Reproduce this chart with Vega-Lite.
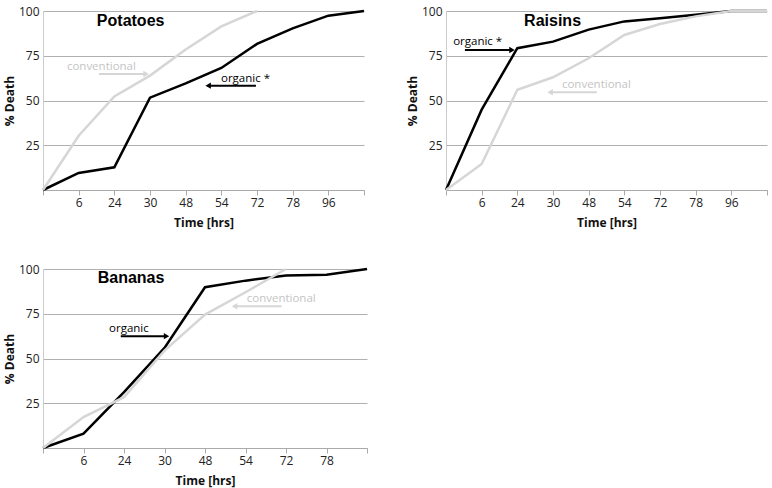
{
  "$schema": "https://vega.github.io/schema/vega-lite/v6.json",
  "padding": {"left": 3, "top": 5, "right": 0, "bottom": 4},
  "background": "white",
  "config": {
    "view": {"stroke": null},
    "font": "Open Sans",
    "axis": {"labelFont": "Open Sans", "labelFontSize": 12, "labelColor": "#222222", "titleFont": "Open Sans", "titleFontSize": 12, "titleFontWeight": "bold", "titleColor": "#111111", "labelOverlap": false}
  },
  "datasets": {
    "potatoes": [
      {"step": 0, "hours": "0", "series": "organic", "death": 0},
      {"step": 1, "hours": "6", "series": "organic", "death": 9.5},
      {"step": 2, "hours": "24", "series": "organic", "death": 12.7},
      {"step": 3, "hours": "30", "series": "organic", "death": 51.6},
      {"step": 4, "hours": "48", "series": "organic", "death": 59.6},
      {"step": 5, "hours": "54", "series": "organic", "death": 68.2},
      {"step": 6, "hours": "72", "series": "organic", "death": 81.6},
      {"step": 7, "hours": "78", "series": "organic", "death": 90.3},
      {"step": 8, "hours": "96", "series": "organic", "death": 97.4},
      {"step": 9, "hours": "", "series": "organic", "death": 100},
      {"step": 0, "hours": "0", "series": "conventional", "death": 0},
      {"step": 1, "hours": "6", "series": "conventional", "death": 30.3},
      {"step": 2, "hours": "24", "series": "conventional", "death": 52.3},
      {"step": 3, "hours": "30", "series": "conventional", "death": 63.9},
      {"step": 4, "hours": "48", "series": "conventional", "death": 78.5},
      {"step": 5, "hours": "54", "series": "conventional", "death": 91.4},
      {"step": 6, "hours": "72", "series": "conventional", "death": 100}
    ],
    "raisins": [
      {"step": 0, "hours": "0", "series": "organic", "death": 0},
      {"step": 1, "hours": "6", "series": "organic", "death": 44.9},
      {"step": 2, "hours": "24", "series": "organic", "death": 79.2},
      {"step": 3, "hours": "30", "series": "organic", "death": 82.9},
      {"step": 4, "hours": "48", "series": "organic", "death": 89.6},
      {"step": 5, "hours": "54", "series": "organic", "death": 94.2},
      {"step": 6, "hours": "72", "series": "organic", "death": 95.9},
      {"step": 7, "hours": "78", "series": "organic", "death": 97.9},
      {"step": 8, "hours": "96", "series": "organic", "death": 100},
      {"step": 9, "hours": "", "series": "organic", "death": 100},
      {"step": 0, "hours": "0", "series": "conventional", "death": 0},
      {"step": 1, "hours": "6", "series": "conventional", "death": 14.5},
      {"step": 2, "hours": "24", "series": "conventional", "death": 56},
      {"step": 3, "hours": "30", "series": "conventional", "death": 63},
      {"step": 4, "hours": "48", "series": "conventional", "death": 73.6},
      {"step": 5, "hours": "54", "series": "conventional", "death": 86.6},
      {"step": 6, "hours": "72", "series": "conventional", "death": 92.7},
      {"step": 7, "hours": "78", "series": "conventional", "death": 97},
      {"step": 8, "hours": "96", "series": "conventional", "death": 100},
      {"step": 9, "hours": "", "series": "conventional", "death": 100}
    ],
    "bananas": [
      {"step": 0, "hours": "0", "series": "organic", "death": 0},
      {"step": 1, "hours": "6", "series": "organic", "death": 8.0},
      {"step": 2, "hours": "24", "series": "organic", "death": 31.2},
      {"step": 3, "hours": "30", "series": "organic", "death": 55.9},
      {"step": 4, "hours": "48", "series": "organic", "death": 89.8},
      {"step": 5, "hours": "54", "series": "organic", "death": 93.5},
      {"step": 6, "hours": "72", "series": "organic", "death": 96.3},
      {"step": 7, "hours": "78", "series": "organic", "death": 96.8},
      {"step": 8, "hours": "", "series": "organic", "death": 100},
      {"step": 0, "hours": "0", "series": "conventional", "death": 0},
      {"step": 1, "hours": "6", "series": "conventional", "death": 17.3},
      {"step": 2, "hours": "24", "series": "conventional", "death": 28.4},
      {"step": 3, "hours": "30", "series": "conventional", "death": 54.4},
      {"step": 4, "hours": "48", "series": "conventional", "death": 74.5},
      {"step": 5, "hours": "54", "series": "conventional", "death": 87},
      {"step": 6, "hours": "72", "series": "conventional", "death": 100}
    ],
    "potatoes_notes": [
      {"series": "conventional", "label": "conventional", "step": 0.67, "death": 68.7},
      {"series": "organic", "label": "organic *", "step": 4.99, "death": 62}
    ],
    "potatoes_arrows": [
      {"series": "conventional", "dir": "right", "from": 1.57, "to": 2.89, "death": 64.8},
      {"series": "organic", "dir": "left", "from": 5.97, "to": 4.63, "death": 58.3}
    ],
    "raisins_notes": [
      {"series": "organic", "label": "organic *", "step": 0.2, "death": 82.7},
      {"series": "conventional", "label": "conventional", "step": 3.25, "death": 58.7}
    ],
    "raisins_arrows": [
      {"series": "organic", "dir": "right", "from": 0.53, "to": 1.85, "death": 78.2},
      {"series": "conventional", "dir": "left", "from": 4.23, "to": 2.92, "death": 54.6}
    ],
    "bananas_notes": [
      {"series": "organic", "label": "organic", "step": 1.63, "death": 66.5},
      {"series": "conventional", "label": "conventional", "step": 5.03, "death": 83.3}
    ],
    "bananas_arrows": [
      {"series": "organic", "dir": "right", "from": 1.92, "to": 3.05, "death": 62.5},
      {"series": "conventional", "dir": "left", "from": 5.89, "to": 4.73, "death": 79.2}
    ],
    "potatoes_title": [{"label": "Potatoes", "step": 1.51, "death": 94.6}],
    "raisins_title": [{"label": "Raisins", "step": 2.19, "death": 94.6}],
    "bananas_title": [{"label": "Bananas", "step": 1.35, "death": 94.8}]
  },
  "vconcat": [
    {
      "spacing": 37,
      "hconcat": [
        {
          "width": 321, "height": 179,
          "layer": [
            {"data": {"name": "potatoes"}, "mark": {"type": "line", "strokeWidth": 2.5},
             "encoding": {
               "x": {"field": "step", "type": "quantitative", "scale": {"domain": [0, 9], "nice": false, "zero": false},
                     "axis": {"title": "Time [hrs]", "values": [0,1,2,3,4,5,6,7,8,9], "tickCount": 10, "labelExpr": "['','6','24','30','48','54','72','78','96',''][datum.value]", "labelOverlap": false, "grid": false, "ticks": true, "tickSize": 5, "tickColor": "#aaaaaa", "domainColor": "#aaaaaa", "labelPadding": 2, "titlePadding": 9, "labelFlush": false}},
               "y": {"field": "death", "type": "quantitative", "scale": {"domain": [0, 100], "nice": false},
                     "axis": {"title": "% Death", "values": [0,25,50,75,100], "labelExpr": "datum.value == 0 ? '' : datum.label", "grid": true, "gridColor": "#b0b0b0", "gridWidth": 1, "ticks": false, "domainColor": "#cccccc", "labelPadding": 4, "titlePadding": 2}},
               "color": {"field": "series", "type": "nominal", "scale": {"domain": ["organic", "conventional"], "range": ["#000000", "#d6d6d6"]}, "legend": null},
               "order": {"field": "step", "type": "quantitative"}
             }},
            {"data": {"name": "potatoes_notes"}, "mark": {"type": "text", "align": "left", "baseline": "middle", "fontSize": 11.5, "font": "Open Sans"},
             "encoding": {"x": {"field": "step", "type": "quantitative"}, "y": {"field": "death", "type": "quantitative"}, "text": {"field": "label"},
               "color": {"field": "series", "type": "nominal", "scale": {"domain": ["organic", "conventional"], "range": ["#000000", "#c4c4c4"]}, "legend": null}}},
            {"data": {"name": "potatoes_arrows"}, "mark": {"type": "rule", "strokeWidth": 2},
             "encoding": {"x": {"field": "from", "type": "quantitative"}, "x2": {"field": "to"}, "y": {"field": "death", "type": "quantitative"},
               "color": {"field": "series", "type": "nominal", "scale": {"domain": ["organic", "conventional"], "range": ["#000000", "#d6d6d6"]}, "legend": null}}},
            {"data": {"name": "potatoes_arrows"}, "mark": {"type": "point", "filled": true, "size": 40, "opacity": 1},
             "encoding": {"x": {"field": "to", "type": "quantitative"}, "y": {"field": "death", "type": "quantitative"},
               "shape": {"field": "dir", "type": "nominal", "scale": {"domain": ["right", "left"], "range": ["triangle-right", "triangle-left"]}, "legend": null},
               "color": {"field": "series", "type": "nominal", "scale": {"domain": ["organic", "conventional"], "range": ["#000000", "#d6d6d6"]}, "legend": null}}},
            {"data": {"name": "potatoes_title"}, "mark": {"type": "text", "align": "left", "baseline": "middle", "fontSize": 16, "fontWeight": "bold", "font": "Liberation Sans", "color": "#000000"},
             "encoding": {"x": {"field": "step", "type": "quantitative"}, "y": {"field": "death", "type": "quantitative"}, "text": {"field": "label"}}}
          ],
          "resolve": {"scale": {"color": "independent"}}
        },
        {
          "width": 321, "height": 179,
          "layer": [
            {"data": {"name": "raisins"}, "mark": {"type": "line", "strokeWidth": 2.5},
             "encoding": {
               "x": {"field": "step", "type": "quantitative", "scale": {"domain": [0, 9], "nice": false, "zero": false},
                     "axis": {"title": "Time [hrs]", "values": [0,1,2,3,4,5,6,7,8,9], "tickCount": 10, "labelExpr": "['','6','24','30','48','54','72','78','96',''][datum.value]", "labelOverlap": false, "grid": false, "ticks": true, "tickSize": 5, "tickColor": "#aaaaaa", "domainColor": "#aaaaaa", "labelPadding": 2, "titlePadding": 9, "labelFlush": false}},
               "y": {"field": "death", "type": "quantitative", "scale": {"domain": [0, 100], "nice": false},
                     "axis": {"title": "% Death", "values": [0,25,50,75,100], "labelExpr": "datum.value == 0 ? '' : datum.label", "grid": true, "gridColor": "#b0b0b0", "gridWidth": 1, "ticks": false, "domainColor": "#cccccc", "labelPadding": 4, "titlePadding": 2}},
               "color": {"field": "series", "type": "nominal", "scale": {"domain": ["organic", "conventional"], "range": ["#000000", "#d6d6d6"]}, "legend": null},
               "order": {"field": "step", "type": "quantitative"}
             }},
            {"data": {"name": "raisins_notes"}, "mark": {"type": "text", "align": "left", "baseline": "middle", "fontSize": 11.5, "font": "Open Sans"},
             "encoding": {"x": {"field": "step", "type": "quantitative"}, "y": {"field": "death", "type": "quantitative"}, "text": {"field": "label"},
               "color": {"field": "series", "type": "nominal", "scale": {"domain": ["organic", "conventional"], "range": ["#000000", "#c4c4c4"]}, "legend": null}}},
            {"data": {"name": "raisins_arrows"}, "mark": {"type": "rule", "strokeWidth": 2},
             "encoding": {"x": {"field": "from", "type": "quantitative"}, "x2": {"field": "to"}, "y": {"field": "death", "type": "quantitative"},
               "color": {"field": "series", "type": "nominal", "scale": {"domain": ["organic", "conventional"], "range": ["#000000", "#d6d6d6"]}, "legend": null}}},
            {"data": {"name": "raisins_arrows"}, "mark": {"type": "point", "filled": true, "size": 40, "opacity": 1},
             "encoding": {"x": {"field": "to", "type": "quantitative"}, "y": {"field": "death", "type": "quantitative"},
               "shape": {"field": "dir", "type": "nominal", "scale": {"domain": ["right", "left"], "range": ["triangle-right", "triangle-left"]}, "legend": null},
               "color": {"field": "series", "type": "nominal", "scale": {"domain": ["organic", "conventional"], "range": ["#000000", "#d6d6d6"]}, "legend": null}}},
            {"data": {"name": "raisins_title"}, "mark": {"type": "text", "align": "left", "baseline": "middle", "fontSize": 16, "fontWeight": "bold", "font": "Liberation Sans", "color": "#000000"},
             "encoding": {"x": {"field": "step", "type": "quantitative"}, "y": {"field": "death", "type": "quantitative"}, "text": {"field": "label"}}}
          ],
          "resolve": {"scale": {"color": "independent"}}
        }
      ]
    },
    {
      "width": 324, "height": 179,
      "layer": [
        {"data": {"name": "bananas"}, "mark": {"type": "line", "strokeWidth": 2.5},
         "encoding": {
           "x": {"field": "step", "type": "quantitative", "scale": {"domain": [0, 8], "nice": false, "zero": false},
                 "axis": {"title": "Time [hrs]", "values": [0,1,2,3,4,5,6,7,8], "tickCount": 9, "labelExpr": "['','6','24','30','48','54','72','78',''][datum.value]", "labelOverlap": false, "grid": false, "ticks": true, "tickSize": 5, "tickColor": "#aaaaaa", "domainColor": "#aaaaaa", "labelPadding": 2, "titlePadding": 9, "labelFlush": false}},
           "y": {"field": "death", "type": "quantitative", "scale": {"domain": [0, 100], "nice": false},
                 "axis": {"title": "% Death", "values": [0,25,50,75,100], "labelExpr": "datum.value == 0 ? '' : datum.label", "grid": true, "gridColor": "#b0b0b0", "gridWidth": 1, "ticks": false, "domainColor": "#cccccc", "labelPadding": 4, "titlePadding": 2}},
           "color": {"field": "series", "type": "nominal", "scale": {"domain": ["organic", "conventional"], "range": ["#000000", "#d6d6d6"]}, "legend": null},
           "order": {"field": "step", "type": "quantitative"}
         }},
        {"data": {"name": "bananas_notes"}, "mark": {"type": "text", "align": "left", "baseline": "middle", "fontSize": 11.5, "font": "Open Sans"},
         "encoding": {"x": {"field": "step", "type": "quantitative"}, "y": {"field": "death", "type": "quantitative"}, "text": {"field": "label"},
           "color": {"field": "series", "type": "nominal", "scale": {"domain": ["organic", "conventional"], "range": ["#000000", "#c4c4c4"]}, "legend": null}}},
        {"data": {"name": "bananas_arrows"}, "mark": {"type": "rule", "strokeWidth": 2},
         "encoding": {"x": {"field": "from", "type": "quantitative"}, "x2": {"field": "to"}, "y": {"field": "death", "type": "quantitative"},
           "color": {"field": "series", "type": "nominal", "scale": {"domain": ["organic", "conventional"], "range": ["#000000", "#d6d6d6"]}, "legend": null}}},
        {"data": {"name": "bananas_arrows"}, "mark": {"type": "point", "filled": true, "size": 40, "opacity": 1},
         "encoding": {"x": {"field": "to", "type": "quantitative"}, "y": {"field": "death", "type": "quantitative"},
           "shape": {"field": "dir", "type": "nominal", "scale": {"domain": ["right", "left"], "range": ["triangle-right", "triangle-left"]}, "legend": null},
           "color": {"field": "series", "type": "nominal", "scale": {"domain": ["organic", "conventional"], "range": ["#000000", "#d6d6d6"]}, "legend": null}}},
        {"data": {"name": "bananas_title"}, "mark": {"type": "text", "align": "left", "baseline": "middle", "fontSize": 16, "fontWeight": "bold", "font": "Liberation Sans", "color": "#000000"},
         "encoding": {"x": {"field": "step", "type": "quantitative"}, "y": {"field": "death", "type": "quantitative"}, "text": {"field": "label"}}}
      ],
      "resolve": {"scale": {"color": "independent"}}
    }
  ],
  "spacing": 35
}
